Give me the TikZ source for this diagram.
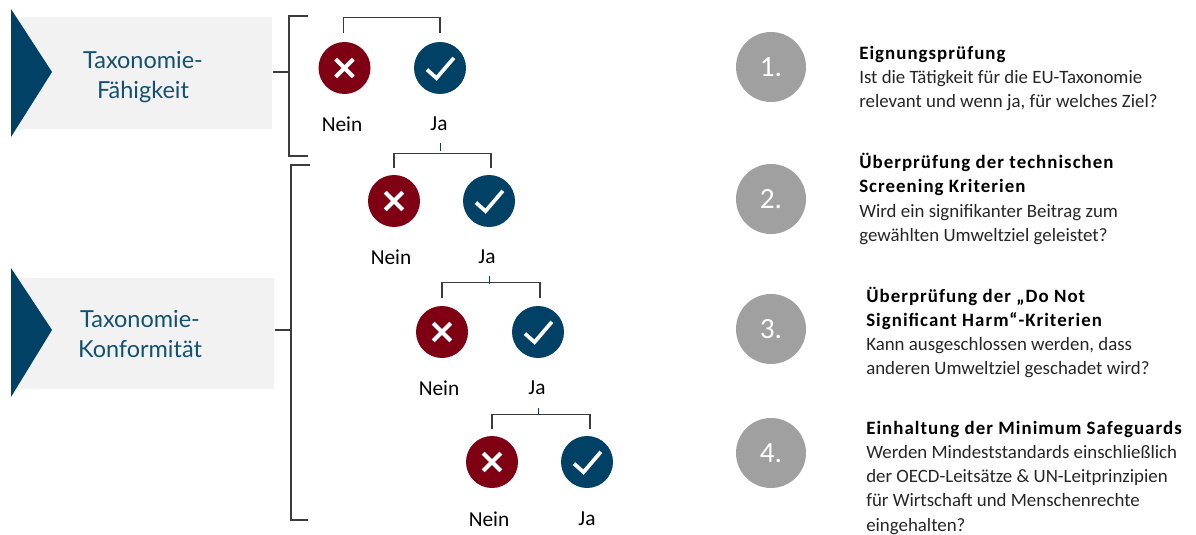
\documentclass[tikz,border=0pt]{standalone}
\usepackage{fontspec}
\setmainfont{Carlito}
\newfontfamily\labelfont{Lato}
\newfontfamily\headfont[LetterSpace=5.5]{Carlito}
\definecolor{navy}{HTML}{004165}
\definecolor{wine}{HTML}{7F0012}
\definecolor{stepgray}{HTML}{A0A0A0}
\definecolor{panel}{HTML}{F2F2F2}
\definecolor{ink}{HTML}{3C3C3C}
\definecolor{bodyink}{HTML}{262626}
\tikzset{
  panelbox/.style={fill=panel,draw=none},
  wedge/.style={fill=navy,draw=none},
  phase/.style={font=\labelfont\fontsize{17.6}{22.5}\selectfont,text=navy!92!white,align=center,inner sep=0pt},
  link/.style={draw=ink,line width=0.95pt},
  stub/.style={draw=navy,line width=0.7pt},
  nomark/.style={circle,fill=wine,minimum size=39pt,inner sep=0pt,
    path picture={\draw[white,line width=3pt]
      ([xshift=-6.6pt,yshift=6.6pt]path picture bounding box.center) -- ([xshift=6.6pt,yshift=-6.6pt]path picture bounding box.center)
      ([xshift=-6.6pt,yshift=-6.6pt]path picture bounding box.center) -- ([xshift=6.6pt,yshift=6.6pt]path picture bounding box.center);}},
  yesmark/.style={circle,fill=navy,minimum size=39pt,inner sep=0pt,
    path picture={\draw[white,line width=2.8pt]
      ([xshift=-9.8pt,yshift=-1.2pt]path picture bounding box.center) -- ([xshift=-2.6pt,yshift=-7.6pt]path picture bounding box.center) -- ([xshift=10.4pt,yshift=7.6pt]path picture bounding box.center);}},
  answer/.style={font=\fontsize{16}{18}\selectfont,text=black,inner sep=0pt},
  stepdot/.style={circle,fill=stepgray,minimum size=52.5pt,inner sep=0pt,text=white,font=\fontsize{22}{24}\selectfont},
  steptext/.style={anchor=north west,align=left,inner sep=0pt,text=bodyink,font=\fontsize{14.15}{18.2}\selectfont},
}
\newcommand{\hd}[1]{{\headfont\bfseries\color{black}#1}}
\begin{document}
\begin{tikzpicture}[x=0.75pt,y=-0.75pt]
\useasboundingbox (0,0) rectangle (1196,535);
% phase panels
\node[panelbox,minimum width=189pt,minimum height=84pt,inner sep=0pt,anchor=north west] (p1) at (20,17) {};
\fill[wedge] (11,9) -- (52,72) -- (11,137) -- cycle;
\node[phase] (t1) at (143,77) {Taxonomie-\\Fähigkeit};
\node[panelbox,minimum width=190.5pt,minimum height=83.25pt,inner sep=0pt,anchor=north west] (p2) at (20,278) {};
\fill[wedge] (11,268) -- (52,330) -- (11,397) -- cycle;
\node[phase] (t2) at (140,334.5) {Taxonomie-\\Konformität};
% brackets
\coordinate (b1t) at (308,16);
\coordinate (b1b) at (308,156);
\coordinate (b2t) at (310,165);
\coordinate (b2b) at (308,520);
\draw[link] (b1t) -- (289,16) -- (289,156) -- (b1b);
\draw[link] (p1.east |- 0,72) -- (289,72);
\draw[link] (b2t) -- (291,165) -- (291,520) -- (b2b);
\draw[link] (p2.east |- 0,330) -- (291,330);
% decision pairs
\node[nomark] (n1) at (344.5,68) {};
\node[yesmark] (y1) at (440,68) {};
\node[answer] (ln1) at (342,124) {Nein};
\node[answer] (ly1) at (439,124) {Ja};
\node[nomark] (n2) at (394,201) {};
\node[yesmark] (y2) at (489,201) {};
\node[answer] (ln2) at (391,257) {Nein};
\node[answer] (ly2) at (487,257) {Ja};
\node[nomark] (n3) at (442,332) {};
\node[yesmark] (y3) at (538,332) {};
\node[answer] (ln3) at (439,388) {Nein};
\node[answer] (ly3) at (537,388) {Ja};
\node[nomark] (n4) at (492,462) {};
\node[yesmark] (y4) at (587,462) {};
\node[answer] (ln4) at (489,519) {Nein};
\node[answer] (ly4) at (587,519) {Ja};
% forks
\draw[link] ([xshift=-1pt,yshift=6.75pt]n1.north) |- ([yshift=18pt]y1.north) -- ([yshift=6.75pt]y1.north);
\draw[link] ([yshift=5.25pt]n2.north) |- ([xshift=1.5pt,yshift=16pt]y2.north) -- ([xshift=1.5pt,yshift=5.25pt]y2.north);
\draw[link] ([yshift=6pt]n3.north) |- ([xshift=1.5pt,yshift=17.25pt]y3.north) -- ([xshift=1.5pt,yshift=6pt]y3.north);
\draw[link] ([yshift=5.25pt]n4.north) |- ([xshift=2.25pt,yshift=15.75pt]y4.north) -- ([xshift=2.25pt,yshift=5.25pt]y4.north);
% stubs from each "Ja" to the next fork
\draw[stub] ([yshift=-15pt]y1 |- ly1.south) -- ++(0,-8);
\draw[stub] ([yshift=-15pt]y2 |- ly2.south) -- ++(0,-8);
\draw[stub] ([yshift=-15pt]y3 |- ly3.south) -- ++(0,-7);
% steps
\node[stepdot] (s1) at (771,67) {1.};
\node[stepdot] (s2) at (771,199) {2.};
\node[stepdot] (s3) at (771,329) {3.};
\node[stepdot] (s4) at (771,453) {4.};
\node[steptext] (d1) at (859,45.5) {\hd{Eignungsprüfung}\\Ist die Tätigkeit für die EU-Taxonomie\\relevant und wenn ja, für welches Ziel?};
\node[steptext] (d2) at (859,153) {\hd{Überprüfung der technischen}\\\hd{Screening Kriterien}\\Wird ein signifikanter Beitrag zum\\gewählten Umweltziel geleistet?};
\node[steptext] (d3) at (866,286.5) {\hd{Überprüfung der „Do Not}\\\hd{Significant Harm“-Kriterien}\\Kann ausgeschlossen werden, dass\\anderen Umweltziel geschadet wird?};
\node[steptext] (d4) at (866,420.5) {\hd{Einhaltung der Minimum Safeguards}\\Werden Mindeststandards einschließlich\\der OECD-Leitsätze \& UN-Leitprinzipien\\für Wirtschaft und Menschenrechte\\eingehalten?};
\end{tikzpicture}
\end{document}
